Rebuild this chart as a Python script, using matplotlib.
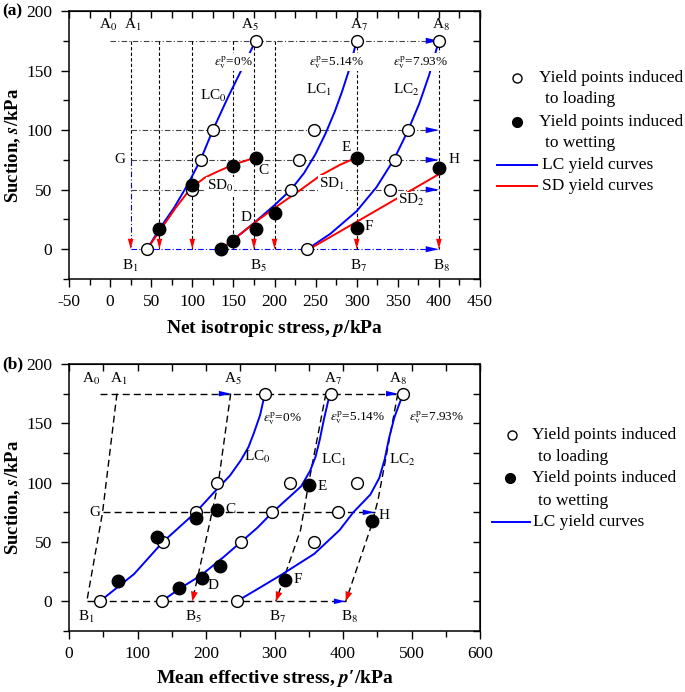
import numpy as np
import matplotlib
matplotlib.use('Agg')
import matplotlib.pyplot as plt
from matplotlib.lines import Line2D
from matplotlib.ticker import MultipleLocator

plt.rcParams['font.family'] = 'Liberation Serif'
plt.rcParams['mathtext.fontset'] = 'stix'
plt.rcParams['axes.unicode_minus'] = False
plt.rcParams['font.size'] = 12.5

BLUE = '#0000ff'
RED = '#ff0000'

# ---- panel (a): net isotropic stress p (kPa) vs suction s (kPa)
a_load_p = [45, 100, 110, 125, 177, 220, 230, 248, 240, 300, 346, 362, 341, 400]
a_load_s = [0, 50, 75, 100, 175, 50, 75, 100, 0, 175, 75, 100, 50, 175]
a_wet_p = [60, 100, 150, 177, 135, 150, 177, 200, 300, 300, 400]
a_wet_s = [17, 54, 70, 77, 0, 7, 17, 30, 77, 18, 68]

a_lc0_p = [45, 60, 78, 95, 110, 125, 143, 158, 177]
a_lc0_s = [0, 17, 35, 55, 75, 100, 127, 148, 175]
a_lc1_p = [135, 150, 175, 200, 220, 236, 250, 262, 273, 282, 290, 300]
a_lc1_s = [0, 8, 22, 37, 50, 64, 80, 97, 115, 132, 149, 175]
a_lc2_p = [240, 268, 300, 324, 345, 362, 376, 388, 400]
a_lc2_s = [0, 13, 32, 52, 75, 99, 122, 146, 175]

a_sd0_p = [45, 61, 80, 98, 115, 130, 150, 177]
a_sd0_s = [0, 16, 35, 51, 60, 65, 71, 77]
a_sd1_p = [135, 150, 179, 207, 232, 256, 280, 300]
a_sd1_s = [0, 8, 24, 38, 50, 62, 71, 77]
a_sd2_p = [242, 300, 350, 400]
a_sd2_s = [0, 23, 43, 63]

a_vert_p = [60, 100, 150, 175, 200, 300, 400]   # dashed stress paths down to s=0
a_hor_s = [100, 75, 50]                           # dash-dot wetting levels

# ---- panel (b): mean effective stress p' (kPa) vs suction s (kPa)
b_load_p = [45, 137, 185, 216, 286, 136, 251, 297, 323, 382, 245, 358, 392, 420, 488]
b_load_s = [0, 50, 75, 100, 175, 0, 50, 75, 100, 175, 0, 50, 75, 100, 175]
b_wet_p = [72, 128, 185, 216, 160, 194, 221, 351, 316, 443]
b_wet_s = [17, 54, 70, 77, 11, 20, 30, 98, 18, 68]

b_lc0_p = [45, 95, 137, 185, 212, 235, 251, 262, 270, 279, 286]
b_lc0_s = [0, 23, 50, 75, 92, 106, 119, 130, 142, 157, 175]
b_lc1_p = [135, 165, 193, 225, 251, 275, 297, 320, 339, 352, 360, 366, 372, 378, 382]
b_lc1_s = [0, 12, 22, 37, 50, 62, 75, 87, 97, 110, 122, 136, 153, 168, 175]
b_lc2_p = [245, 280, 309, 358, 395, 415, 440, 453, 461, 467, 475, 482, 488]
b_lc2_s = [0, 12, 22, 40, 60, 75, 90, 104, 120, 137, 155, 166, 175]

b_path1_p = [70, 49, 26]
b_path1_s = [175, 75, 0]
b_path5_p = [236, 218, 205, 180]
b_path5_s = [175, 100, 65, 0]
b_path7_p = [375, 350, 338, 302]
b_path7_s = [175, 100, 60, 0]
b_path8_p = [480, 451, 441, 404]
b_path8_s = [175, 85, 63, 0]


def head(ax, x0, y0, x1, y1, color, hl=0.8, hw=0.22):
    ax.annotate('', xy=(x1, y1), xytext=(x0, y0), zorder=4,
                arrowprops=dict(arrowstyle='-|>,head_length=%g,head_width=%g' % (hl, hw),
                                color=color, lw=0, shrinkA=0, shrinkB=0, mutation_scale=10))


def style(ax, xmax, xmaj):
    ax.set_xlim(-50 if xmax == 450 else 0, xmax)
    ax.set_ylim(-25, 200)
    ax.xaxis.set_major_locator(MultipleLocator(xmaj))
    ax.xaxis.set_minor_locator(MultipleLocator(xmaj / 2))
    ax.yaxis.set_major_locator(MultipleLocator(50))
    ax.yaxis.set_minor_locator(MultipleLocator(25))
    ax.tick_params(which='both', direction='out', width=1)
    ax.tick_params(which='major', length=6)
    ax.tick_params(which='minor', length=4)
    ax.tick_params(axis='x', pad=5)
    ax.tick_params(axis='y', pad=6)
    for sp in ax.spines.values():
        sp.set_linewidth(1.1)
    sx = ax.secondary_xaxis('top')
    sx.xaxis.set_major_locator(MultipleLocator(xmaj))
    sx.xaxis.set_minor_locator(MultipleLocator(xmaj / 2))
    sx.tick_params(which='both', direction='in', length=5, width=1, labeltop=False)
    sy = ax.secondary_yaxis('right')
    sy.yaxis.set_major_locator(MultipleLocator(50))
    sy.yaxis.set_minor_locator(MultipleLocator(25))
    sy.tick_params(which='both', direction='in', length=5, width=1, labelright=False)


def lab(ax, x, y, s, size=11, white=False, **kw):
    kw.setdefault('ha', 'center')
    kw.setdefault('va', 'center')
    box = dict(facecolor='white', edgecolor='none', pad=0.5) if white else None
    ax.text(x, y, s, fontsize=size, bbox=box, zorder=5, **kw)


eps = r'$\varepsilon^{\mathrm{p}}_{\mathrm{v}}$'

fig = plt.figure(figsize=(6.85, 6.92), dpi=100)
axa = fig.add_axes([69 / 685, 1 - 279 / 692, 411 / 685, 268 / 692])
axb = fig.add_axes([69 / 685, 1 - 631 / 692, 411 / 685, 267 / 692])

# ================= (a)
ax = axa
style(ax, 450, 50)
dd = dict(color='#444444', lw=0.8, ls=(0, (5, 2, 1, 2)))
dash = dict(color='black', lw=0.8, ls=(0, (3, 2)))
ax.plot([0, 400], [175, 175], **dd)
for s in a_hor_s:
    ax.plot([25, 400], [s, s], **dd)
ax.plot([25, 400], [0, 0], color=BLUE, lw=0.8, ls=(0, (5, 2, 1, 2)))
ax.plot([25, 25], [175, 75], **dash)
ax.plot([25, 25], [75, 0], color=BLUE, lw=0.8, ls=(0, (5, 2, 1, 2)))
for p in a_vert_p:
    ax.plot([p, p], [175, 0], **dash)
for p in [25] + a_vert_p:
    head(ax, p, 12, p, 0, RED, hl=0.75, hw=0.2)
for s in [175] + a_hor_s + [0]:
    head(ax, 385, s, 400, s, BLUE, hl=0.95, hw=0.22)

for pp, ss in [(a_lc0_p, a_lc0_s), (a_lc1_p, a_lc1_s), (a_lc2_p, a_lc2_s)]:
    ax.plot(pp, ss, color=BLUE, lw=1.4, zorder=3)
for pp, ss in [(a_sd0_p, a_sd0_s), (a_sd1_p, a_sd1_s), (a_sd2_p, a_sd2_s)]:
    ax.plot(pp, ss, color=RED, lw=1.4, zorder=3)
ax.plot(a_load_p, a_load_s, 'o', mfc='white', mec='black', ms=8.5, mew=1, zorder=6)
ax.plot(a_wet_p, a_wet_s, 'o', color='black', ms=9, zorder=6)

for x, t in [(-2, 'A$_0$'), (28, 'A$_1$'), (170, 'A$_5$'), (303, 'A$_7$'), (402, 'A$_8$')]:
    lab(ax, x, 188, t)
for x, t in [(25, 'B$_1$'), (180, 'B$_5$'), (302, 'B$_7$'), (403, 'B$_8$')]:
    lab(ax, x, -14, t)
lab(ax, 150, 157, eps + '=0%', size=9.5, white=True)
lab(ax, 275, 157, eps + '=5.14%', size=9.5, white=True)
lab(ax, 378, 157, eps + '=7.93%', size=9.5, white=True)
lab(ax, 126, 129, 'LC$_0$')
lab(ax, 254, 134, 'LC$_1$')
lab(ax, 360, 134, 'LC$_2$')
lab(ax, 134, 53, 'SD$_0$', white=True)
lab(ax, 270, 55, 'SD$_1$', white=True)
lab(ax, 366, 41, 'SD$_2$', white=True)
lab(ax, 12, 75, 'G', white=True)
lab(ax, 187, 66, 'C')
lab(ax, 287, 85, 'E')
lab(ax, 418, 75, 'H')
lab(ax, 165, 27, 'D')
lab(ax, 315, 19, 'F')
ax.set_xlabel(r'Net isotropic stress, $\mathbfit{p}$/kPa', fontsize=14, fontweight='bold')
ax.set_ylabel(r'Suction, $\mathbfit{s}$/kPa', fontsize=13.5, fontweight='bold')
ax.xaxis.set_label_coords(0.5, -0.145)
ax.yaxis.set_label_coords(-0.113, 0.5)

# ================= (b)
ax = axb
style(ax, 600, 100)
dash = dict(color='black', lw=1.0, ls=(0, (5, 3)))
ax.plot([45, 480], [175, 175], **dash)
ax.plot([49, 446], [75, 75], **dash)
ax.plot([27, 404], [0, 0], **dash)
for pp, ss in [(b_path1_p, b_path1_s), (b_path5_p, b_path5_s),
               (b_path7_p, b_path7_s), (b_path8_p, b_path8_s)]:
    ax.plot(pp, ss, **dash)
for pp, ss in [(b_path5_p, b_path5_s), (b_path7_p, b_path7_s), (b_path8_p, b_path8_s)]:
    head(ax, pp[-2], ss[-2], pp[-1], ss[-1], RED, hl=0.7, hw=0.25)
head(ax, 200, 175, 236, 175, BLUE, hl=0.85, hw=0.2)
head(ax, 440, 175, 480, 175, BLUE, hl=0.85, hw=0.2)
head(ax, 410, 75, 446, 75, BLUE, hl=0.85, hw=0.2)
head(ax, 370, 0, 404, 0, BLUE, hl=0.85, hw=0.2)

for pp, ss in [(b_lc0_p, b_lc0_s), (b_lc1_p, b_lc1_s), (b_lc2_p, b_lc2_s)]:
    ax.plot(pp, ss, color=BLUE, lw=1.4, zorder=3)
ax.plot(b_load_p, b_load_s, 'o', mfc='white', mec='black', ms=8.5, mew=1, zorder=6)
ax.plot(b_wet_p, b_wet_s, 'o', color='black', ms=9, zorder=6)

for x, t in [(32, 'A$_0$'), (73, 'A$_1$'), (239, 'A$_5$'), (385, 'A$_7$'), (481, 'A$_8$')]:
    lab(ax, x, 187, t)
for x, t in [(25, 'B$_1$'), (182, 'B$_5$'), (304, 'B$_7$'), (409, 'B$_8$')]:
    lab(ax, x, -13, t)
lab(ax, 312, 154, eps + '=0%', size=9.5)
lab(ax, 422, 155, eps + '=5.14%', size=9.5)
lab(ax, 536, 155, eps + '=7.93%', size=9.5)
lab(ax, 275, 122, 'LC$_0$')
lab(ax, 387, 119, 'LC$_1$')
lab(ax, 487, 119, 'LC$_2$')
lab(ax, 38, 75, 'G')
lab(ax, 236, 77, 'C')
lab(ax, 369, 97, 'E')
lab(ax, 460, 72, 'H')
lab(ax, 210, 13, 'D')
lab(ax, 334, 18, 'F')
ax.set_xlabel('Mean effective stress, $\\mathbfit{p}$\u2032/kPa', fontsize=14, fontweight='bold')
ax.set_ylabel(r'Suction, $\mathbfit{s}$/kPa', fontsize=13.5, fontweight='bold')
ax.xaxis.set_label_coords(0.5, -0.14)
ax.yaxis.set_label_coords(-0.113, 0.5)

# panel tags
fig.text(2 / 685, 1 - 11 / 692, '(a)', fontsize=12.5, fontweight='bold', va='center')
fig.text(2 / 685, 1 - 364 / 692, '(b)', fontsize=12.5, fontweight='bold', va='center')


# ---- legends drawn at figure level (marker on the first text line)
def fxy(x, y):
    return x / 685, 1 - y / 692


def leg_marker(x, y, filled):
    fx, fy = fxy(x, y)
    fig.add_artist(Line2D([fx], [fy], marker='o', ls='none', transform=fig.transFigure,
                          mfc='black' if filled else 'white', mec='black',
                          ms=7 if filled else 6.5, mew=1))


def leg_line(x0, x1, y, color):
    a, fy = fxy(x0, y)
    b, _ = fxy(x1, y)
    fig.add_artist(Line2D([a, b], [fy, fy], color=color, lw=1.4, transform=fig.transFigure))


def leg_text(x, y, t):
    fx, fy = fxy(x, y)
    fig.text(fx, fy, t, fontsize=12.5, va='center', ha='left')


leg_marker(517, 78, False)
leg_text(539, 78, 'Yield points induced')
leg_text(545, 99, 'to loading')
leg_marker(517, 122, True)
leg_text(539, 122, 'Yield points induced')
leg_text(545, 143, 'to wetting')
leg_line(497, 537, 165, BLUE)
leg_text(542, 165, 'LC yield curves')
leg_line(497, 537, 186, RED)
leg_text(542, 186, 'SD yield curves')

leg_marker(512, 435, False)
leg_text(532, 435, 'Yield points induced')
leg_text(538, 457, 'to loading')
leg_marker(510, 478, True)
leg_text(532, 478, 'Yield points induced')
leg_text(538, 501, 'to wetting')
leg_line(492, 530, 522, BLUE)
leg_text(533, 522, 'LC yield curves')

fig.savefig('out.png', dpi=100)
